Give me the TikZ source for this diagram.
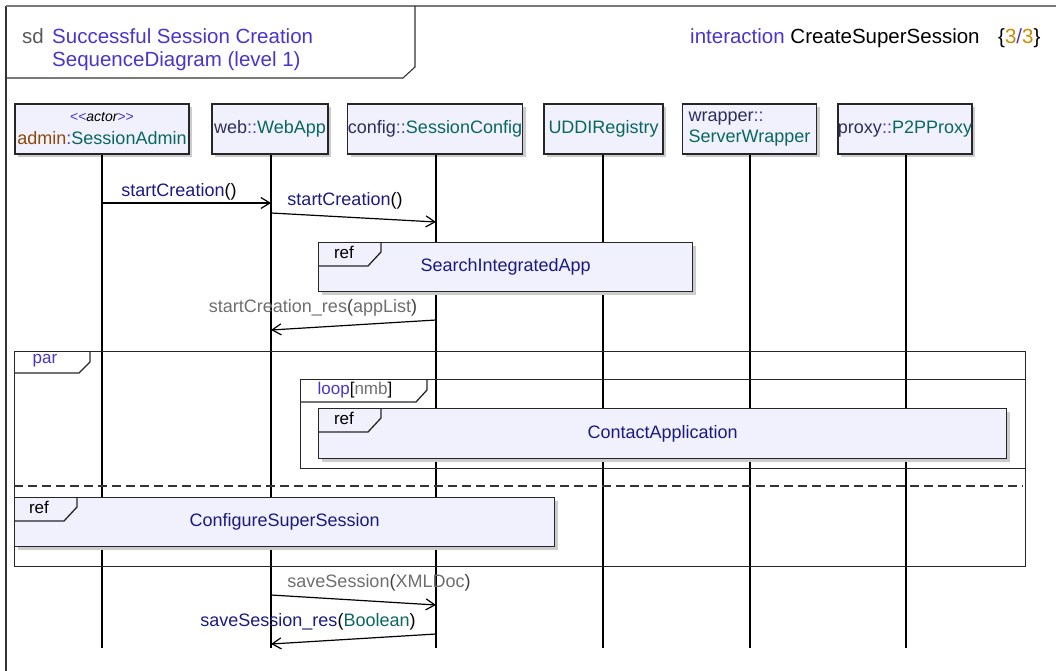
\documentclass[tikz,border=0pt]{standalone}
\usepackage{fontspec}
\setmainfont{Liberation Sans}
\usetikzlibrary{arrows.meta,shadows}
\definecolor{titleblue}{HTML}{4A34CC}
\definecolor{navyc}{HTML}{1A1A80}
\definecolor{clsteal}{HTML}{0A6661}
\definecolor{pkgc}{HTML}{2E2E5C}
\definecolor{lblgray}{HTML}{6E6E6E}
\definecolor{brownc}{HTML}{8B4A0A}
\definecolor{orangec}{HTML}{CC8A00}
\definecolor{boxfill}{HTML}{F1F1FD}
\definecolor{framegray}{HTML}{7A7A7A}
\begin{document}
\begin{tikzpicture}[x=1pt,y=-1pt,
  font=\fontsize{18}{21}\selectfont,
  lifebox/.style={draw=black!85, line width=1.3pt, fill=boxfill, inner sep=0pt,
    minimum height=50pt,
    drop shadow={shadow xshift=3pt, shadow yshift=-3pt, fill=black!20, opacity=1}},
  lifeline/.style={draw=black, line width=1.5pt},
  frame/.style={draw=black!85, line width=1.4pt, anchor=north west, inner sep=0pt},
  refbox/.style={draw=black!85, line width=1.3pt, fill=boxfill, anchor=north west,
    inner sep=0pt, text=navyc,
    drop shadow={shadow xshift=3pt, shadow yshift=-3pt, fill=black!20, opacity=1}},
  tab/.style={draw=black!85, line width=1.3pt},
  msg/.style={draw=black, line width=1.2pt,
    -{Straight Barb[length=9pt,width=11pt,line width=1.2pt]}},
  lbl/.style={inner sep=0pt},
  tablbl/.style={inner sep=0pt, font=\fontsize{17}{20}\selectfont}
]
\useasboundingbox (0,0) rectangle (1056,671);
% outer frame
\draw[black!80, line width=1.3pt] (6,671) -- (6,6);
\draw[framegray, line width=1.3pt] (6,6) -- (1056,6);
% title box
\draw[black!80, line width=1.1pt] (6,78) -- (403,78) -- (415,67) -- (415,6);
\node[lbl, anchor=base west, text=black!65, font=\fontsize{20.5}{24}\selectfont] (sd) at (22,44) {sd};
\node[lbl, anchor=base west, text=titleblue, font=\fontsize{20.5}{24}\selectfont] (title1) at (52,44) {Successful Session Creation};
\node[lbl, anchor=base west, text=titleblue, font=\fontsize{20.5}{24}\selectfont] (title2) at (52,67) {SequenceDiagram (level 1)};
\node[lbl, anchor=base west, font=\fontsize{20.5}{24}\selectfont] (inter) at (690,44) {{\color{titleblue}interaction} CreateSuperSession};
\node[lbl, anchor=base west, font=\fontsize{20.5}{24}\selectfont] (pages) at (998,44) {\{{\color{orangec}3}{\color{titleblue}/}{\color{orangec}3}\}};

% lifeline heads
\node[lifebox, minimum width=174pt, align=center] (admin) at (102,129)
  {{\fontsize{14}{15}\selectfont\color{titleblue}<\kern0pt<{\color{black}\itshape actor}>\kern0pt>}\\[2pt]{\color{brownc}admin}{\color{titleblue}:}{\color{clsteal}SessionAdmin}};
\node[lifebox, minimum width=116pt] (web) at (270,129)
  {{\color{pkgc}web}{\color{titleblue}::}{\color{clsteal}WebApp}};
\node[lifebox, minimum width=175pt] (config) at (435,129)
  {{\color{pkgc}config}{\color{titleblue}::}{\color{clsteal}SessionConfig}};
\node[lifebox, minimum width=119pt] (uddi) at (603.5,129)
  {{\color{clsteal}UDDIRegistry}};
\node[lifebox, minimum width=134pt, align=left] (wrapper) at (749.5,129)
  {{\color{pkgc}wrapper}{\color{titleblue}::}\\{\color{clsteal}ServerWrapper}};
\node[lifebox, minimum width=134pt] (proxy) at (905,129)
  {{\color{pkgc}proxy}{\color{titleblue}::}{\color{clsteal}P2PProxy}};

% lifeline ends
\coordinate (adminEnd) at (102,648);
\coordinate (webEnd) at (271,648);
\coordinate (configEnd) at (436,648);
\coordinate (uddiEnd) at (603,648);
\coordinate (wrapperEnd) at (750,648);
\coordinate (proxyEnd) at (906,648);
\draw[lifeline] (admin.south -| adminEnd) -- (adminEnd);
\draw[lifeline] (web.south -| webEnd) -- (webEnd);
\draw[lifeline] (config.south -| configEnd) -- (configEnd);
\draw[lifeline] (uddi.south -| uddiEnd) -- (uddiEnd);
\draw[lifeline] (wrapper.south -| wrapperEnd) -- (wrapperEnd);
\draw[lifeline] (proxy.south -| proxyEnd) -- (proxyEnd);

% par frame
\node[frame, minimum width=1011pt, minimum height=215pt] (par) at (14,351) {};
\draw[tab] (par.north west) ++(76,0) -- ++(0,11) -- ++(-11,11) -- ++(-65,0);
\node[tablbl, text=titleblue] (parlbl) at (45,361) {par};
\coordinate (sepL) at (14,486);
\coordinate (sepR) at (1023,486);
\draw[black!80, line width=1.1pt, dash pattern=on 9pt off 5pt] (sepL) -- (sepR);

% loop frame
\node[frame, minimum width=725pt, minimum height=89pt] (loop) at (300,379) {};
\draw[tab] (loop.north west) ++(127,0) -- ++(0,11) -- ++(-11,12) -- ++(-116,0);
\node[tablbl] (looplbl) at (355,390) {{\color{titleblue}loop}[{\color{lblgray}nmb}]};

% ref boxes
\node[refbox, minimum width=374pt, minimum height=49pt] (refSearch) at (318,242) {SearchIntegratedApp};
\draw[tab] (refSearch.north west) ++(63,0) -- ++(0,10) -- ++(-13,14) -- ++(-50,0);
\node[tablbl] (refl1) at (344,252) {ref};

\node[refbox, minimum width=688pt, minimum height=50pt] (refContact) at (318,408) {ContactApplication};
\draw[tab] (refContact.north west) ++(63,0) -- ++(0,10) -- ++(-13,14) -- ++(-50,0);
\node[tablbl] (refl2) at (344,418) {ref};

\node[refbox, minimum width=540pt, minimum height=49pt] (refConfig) at (14,497) {ConfigureSuperSession};
\draw[tab] (refConfig.north west) ++(63,0) -- ++(0,10) -- ++(-13,14) -- ++(-50,0);
\node[tablbl] (refl3) at (39,507) {ref};

% messages
\coordinate (m1a) at (102,203);
\coordinate (m1b) at (271,203);
\draw[msg] (m1a) -- (m1b);
\node[lbl, text=navyc] (l1) at (179,192) {startCreation{\color{black}()}};

\coordinate (m2a) at (271,213);
\coordinate (m2b) at (436,222);
\draw[msg] (m2a) -- (m2b);
\node[lbl, text=navyc] (l2) at (345,201) {startCreation{\color{black}()}};

\coordinate (m3a) at (436,320);
\coordinate (m3b) at (271,330);
\draw[msg] (m3a) -- (m3b);
\node[lbl, text=lblgray] (l3) at (313,308) {startCreation\_res{\color{black!75}(}appList{\color{black!75})}};

\coordinate (m4a) at (271,595);
\coordinate (m4b) at (436,605);
\draw[msg] (m4a) -- (m4b);
\node[lbl, text=lblgray] (l4) at (379,583) {saveSession{\color{black!75}(}XMLDoc{\color{black!75})}};

\coordinate (m5a) at (436,634);
\coordinate (m5b) at (271,644);
\draw[msg] (m5a) -- (m5b);
\node[lbl, text=navyc] (l5) at (308,622) {saveSession\_res{\color{black}(}{\color{clsteal}Boolean}{\color{black})}};
\end{tikzpicture}
\end{document}
